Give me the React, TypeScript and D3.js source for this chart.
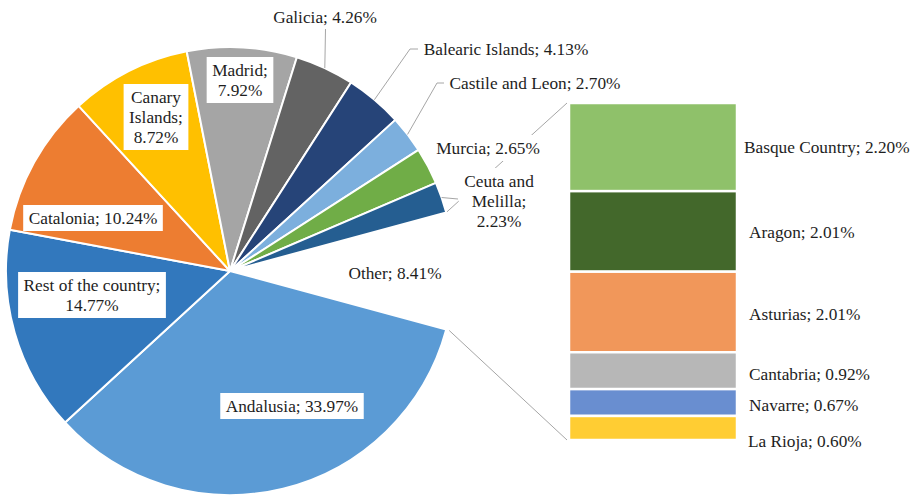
import React from "react";
import * as d3 from "d3";

// ---- data ----
const categories = [
  "Andalusia",
  "Rest of the country",
  "Catalonia",
  "Canary Islands",
  "Madrid",
  "Galicia",
  "Balearic Islands",
  "Castile and Leon",
  "Murcia",
  "Ceuta and Melilla",
];
const values = [33.97, 14.77, 10.24, 8.72, 7.92, 4.26, 4.13, 2.7, 2.65, 2.23];
const pieColors = [
  "#5B9BD5",
  "#3278BD",
  "#ED7D31",
  "#FFC000",
  "#A5A5A5",
  "#636363",
  "#264478",
  "#7CAFDD",
  "#70AD47",
  "#255E91",
];
const otherName = "Other";
const otherValue = 8.41;

const barCategories = ["Basque Country", "Aragon", "Asturias", "Cantabria", "Navarre", "La Rioja"];
const barValues = [2.2, 2.01, 2.01, 0.92, 0.67, 0.6];
const barColors = ["#8FC16A", "#43682B", "#F1975A", "#B7B7B7", "#698ED0", "#FFCD33"];

// ---- layout ----
const W = 919;
const H = 496;
const CX = 230;
const CY = 271;
const R = 224;
const FONT = "Liberation Serif";
const FS = 17.3;
const LH = 20;
const TEXT = "#1E1E1E";
const LINE = "#A6A6A6";
const textStyle = { fontFamily: FONT, fontSize: FS };

type LabelLayout = { x: number; y: number; lines?: string[]; box: boolean; leader?: [number, number][] };
const pieLabelLayout: Record<string, LabelLayout> = {
  Andalusia: { x: 292, y: 406, box: true },
  "Rest of the country": { x: 92, y: 295, lines: ["Rest of the country;", "%"], box: true },
  Catalonia: { x: 93, y: 218, box: true },
  "Canary Islands": { x: 156, y: 117, lines: ["Canary", "Islands;", "%"], box: true },
  Madrid: { x: 240, y: 80, lines: ["Madrid;", "%"], box: true },
  Galicia: { x: 325, y: 17, box: false, leader: [[325.5, 29]] },
  "Balearic Islands": { x: 506, y: 49, box: false, leader: [[410, 49], [418, 49]] },
  "Castile and Leon": { x: 535, y: 83, box: false, leader: [[437, 83], [444, 83]] },
  Murcia: { x: 488, y: 148, box: true },
  "Ceuta and Melilla": { x: 499, y: 201, lines: ["Ceuta and", "Melilla;", "%"], box: true, leader: [[458, 199]] },
};
const otherLabelPos = { x: 395, y: 273 };
const barX0 = 569;
const barX1 = 737;
const barLabelX = [744, 749, 749, 749, 749, 748];
const barLabelDy = [0, 1, 2, 3, 2, 13];

const ctx = typeof document !== "undefined" ? document.createElement("canvas").getContext("2d") : null;
function measure(s: string) {
  if (!ctx) return s.length * 8;
  ctx.font = `${FS}px "${FONT}"`;
  return ctx.measureText(s).width;
}

export default function App() {
  const pieData = [{ name: otherName, v: otherValue }, ...categories.map((c, i) => ({ name: c, v: values[i] }))];
  const total = d3.sum(pieData, (d) => d.v);
  const otherAngle = (otherValue / total) * 2 * Math.PI;
  const start = Math.PI / 2 - otherAngle / 2;
  const arcs = d3
    .pie<{ name: string; v: number }>()
    .sort(null)
    .value((d) => d.v)
    .startAngle(start)
    .endAngle(start + 2 * Math.PI)(pieData);
  const arcGen = d3.arc<d3.PieArcDatum<{ name: string; v: number }>>().innerRadius(0).outerRadius(R);

  const polar = (a: number, r: number): [number, number] => [CX + r * Math.sin(a), CY - r * Math.cos(a)];

  const otherArc = arcs[0];
  const pTop = polar(otherArc.startAngle, R);
  const pBot = polar(otherArc.endAngle, R);

  const barTotal = d3.sum(barValues);
  const y = d3.scaleLinear().domain([0, barTotal]).range([103, 440]);
  const cum = d3.cumsum(barValues);
  const bars = barValues.map((v, i) => ({
    name: barCategories[i],
    v,
    y0: y(cum[i] - v),
    y1: y(cum[i]),
    color: barColors[i],
  }));

  const labelEls: React.ReactNode[] = [];
  const leaderEls: React.ReactNode[] = [];
  arcs.slice(1).forEach((a, i) => {
    const name = categories[i];
    const lay = pieLabelLayout[name];
    const pct = `${values[i].toFixed(2)}%`;
    const lines = lay.lines ? lay.lines.map((l) => (l === "%" ? pct : l)) : [`${name}; ${pct}`];
    const n = lines.length;
    const wMax = d3.max(lines, measure) || 0;
    if (lay.leader) {
      const mid = (a.startAngle + a.endAngle) / 2;
      const pts = [polar(mid, R), ...lay.leader];
      leaderEls.push(
        <polyline key={"ld" + i} points={pts.map((p) => p.join(",")).join(" ")} fill="none" stroke={LINE} strokeWidth={1} />
      );
    }
    labelEls.push(
      <g key={"lb" + i}>
        {lay.box && (
          <rect
            x={lay.x - wMax / 2 - 5.5}
            y={lay.y - (n * LH) / 2 - 3}
            width={wMax + 11}
            height={n * LH + 6}
            fill="#FFFFFF"
          />
        )}
        <text x={lay.x} y={lay.y} textAnchor="middle" style={textStyle} fill={TEXT}>
          {lines.map((l, k) => (
            <tspan key={k} x={lay.x} y={lay.y + (k - (n - 1) / 2) * LH} dy="0.35em">
              {l}
            </tspan>
          ))}
        </text>
      </g>
    );
  });

  return (
    <svg width={W} height={H} style={{ position: "absolute", left: 0, top: 0, background: "#FFFFFF" }}>
      <rect x={0} y={0} width={W} height={H} fill="#FFFFFF" />
      {/* connector lines */}
      <line x1={pTop[0]} y1={pTop[1]} x2={barX0 - 2} y2={y(0)} stroke={LINE} strokeWidth={1} />
      <line x1={pBot[0] + 3} y1={pBot[1] + 1} x2={barX0 - 2} y2={y(barTotal)} stroke={LINE} strokeWidth={1} />
      {/* pie */}
      <g transform={`translate(${CX},${CY})`}>
        {arcs.slice(1).map((a, i) => (
          <path key={i} d={arcGen(a) || ""} fill={pieColors[i]} stroke="#FFFFFF" strokeWidth={2} strokeLinejoin="round" />
        ))}
      </g>
      {leaderEls}
      {labelEls}
      <text x={otherLabelPos.x} y={otherLabelPos.y} dy="0.35em" textAnchor="middle" style={textStyle} fill={TEXT}>
        {`${otherName}; ${otherValue.toFixed(2)}%`}
      </text>
      {/* bar of pie */}
      {bars.map((b, i) => (
        <g key={"bar" + i}>
          <rect x={barX0} y={b.y0} width={barX1 - barX0} height={b.y1 - b.y0} fill={b.color} stroke="#FFFFFF" strokeWidth={2.5} />
          <text x={barLabelX[i]} y={(b.y0 + b.y1) / 2 + barLabelDy[i]} dy="0.35em" style={textStyle} fill={TEXT}>
            {`${b.name}; ${b.v.toFixed(2)}%`}
          </text>
        </g>
      ))}
    </svg>
  );
}
